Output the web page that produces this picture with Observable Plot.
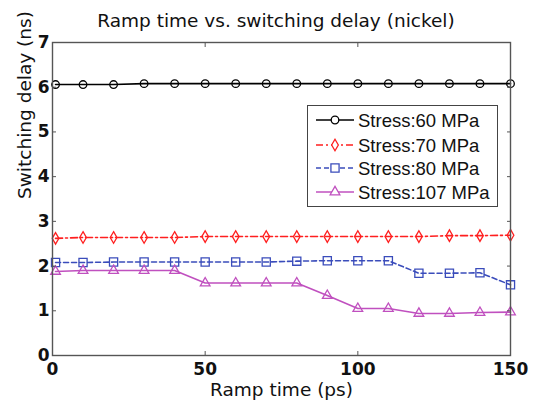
<!DOCTYPE html>
<html><head><meta charset="utf-8">
<script src="https://cdn.jsdelivr.net/npm/d3@7"></script>
<script src="https://cdn.jsdelivr.net/npm/@observablehq/plot@0.6"></script>
<style>
body{margin:0;background:#fff;font-family:"DejaVu Sans",sans-serif;}
#wrap{position:relative;width:535px;height:401px;overflow:hidden;}
#title{position:absolute;left:0;width:552px;top:11px;text-align:center;font-size:18.5px;line-height:20px;color:#111;}
#legend{position:absolute;left:307px;top:105px;width:191px;height:102px;border:1.3px solid #444;background:#fff;box-sizing:border-box;}
#wrap svg.plot{position:absolute;left:0;top:0;}
</style></head><body><div id="wrap"><div id="title">Ramp time vs. switching delay (nickel)</div></div>
<script>
const rampTime = [1,10,20,30,40,50,60,70,80,90,100,110,120,130,140,150];
const stress60  = [6.06,6.06,6.06,6.08,6.08,6.08,6.08,6.08,6.08,6.08,6.08,6.08,6.08,6.08,6.08,6.08];
const stress70  = [2.62,2.64,2.64,2.64,2.64,2.66,2.66,2.66,2.66,2.66,2.66,2.66,2.66,2.68,2.68,2.69];
const stress80  = [2.08,2.08,2.09,2.09,2.09,2.09,2.09,2.09,2.11,2.12,2.12,2.12,1.84,1.84,1.85,1.58];
const stress107 = [1.88,1.90,1.90,1.90,1.90,1.62,1.62,1.62,1.62,1.34,1.05,1.05,0.94,0.94,0.96,0.97];
const seriesNames = ["Stress:60 MPa","Stress:70 MPa","Stress:80 MPa","Stress:107 MPa"];
const seriesValues = [stress60, stress70, stress80, stress107];
const seriesColors = ["#000000","#ff1f1f","#3a4cbb","#c050bf"];
const seriesSymbols = ["circle","diamond","square","triangle"];
const seriesSymbolR = [3.8, 3.5, 4.6, 3.6];
const seriesDash = [null,"7,3,2,3","5,3",null];
const xTicks = [0,50,100,150];
const yTicks = [0,1,2,3,4,5,6,7];
const xLabel = "Ramp time (ps)";
const yLabel = "Switching delay (ns)";

const rows = seriesNames.flatMap((name, i) => rampTime.map((t, j) => ({series: name, t, v: seriesValues[i][j]})));

const W = 535, H = 401;
const tickFont = {fontSize: 17, fontWeight: "bold", fill: "#111"};
const marks = [];
seriesNames.forEach((name, i) => {
  const d = rows.filter(r => r.series === name);
  marks.push(Plot.line(d, {x: "t", y: "v", stroke: seriesColors[i], strokeWidth: 1.6, strokeDasharray: seriesDash[i]}));
  marks.push(Plot.dot(d, {x: "t", y: "v", symbol: () => seriesSymbols[i], stroke: seriesColors[i], r: seriesSymbolR[i], strokeWidth: 1.3, fill: "none"}));
});
marks.push(
  Plot.frame({stroke: "#555", strokeWidth: 1.4}),
  Plot.axisX(xTicks, {anchor: "bottom", tickSize: -4, tickPadding: 11, ...tickFont, stroke: "#555", label: null}),
  Plot.axisX(xTicks, {anchor: "top", tickSize: -4, tickFormat: () => "", stroke: "#555", label: null}),
  Plot.axisY(yTicks, {anchor: "left", tickSize: -4, tickPadding: 7, ...tickFont, stroke: "#555", label: null}),
  Plot.axisY(yTicks, {anchor: "right", tickSize: -4, tickFormat: () => "", stroke: "#555", label: null}),
  Plot.text([xLabel], {frameAnchor: "bottom", dy: 40, fontSize: 18.5, fill: "#111"}),
  Plot.text([yLabel], {frameAnchor: "left", rotate: -90, dx: -27, dy: 0, fontSize: 18.5, fill: "#111"})
);

const chart = Plot.plot({
  width: W, height: H,
  marginLeft: 52, marginRight: 25, marginTop: 42, marginBottom: 46,
  x: {domain: [0, 150]},
  y: {domain: [0, 7]},
  style: {fontFamily: "'DejaVu Sans', sans-serif", color: "#000", background: "transparent", overflow: "visible"},
  marks
});
chart.classList.add("plot");
const wrap = document.getElementById("wrap");
wrap.insertBefore(chart, wrap.firstChild);

// legend
const leg = document.createElement("div");
leg.id = "legend";
wrap.appendChild(leg);
const lsvg = d3.select(leg).append("svg").attr("width", 189).attr("height", 100);
const rowY = [14, 39, 62, 86];
const symMap = {circle: d3.symbolCircle, diamond: d3.symbolDiamond, square: d3.symbolSquare, triangle: d3.symbolTriangle};
seriesNames.forEach((name, i) => {
  const g = lsvg.append("g").attr("transform", `translate(0,${rowY[i]})`);
  g.append("line").attr("x1", 8).attr("x2", 46).attr("stroke", seriesColors[i]).attr("stroke-width", 1.6)
    .attr("stroke-dasharray", seriesDash[i]);
  const r = seriesSymbolR[i];
  g.append("path").attr("transform", "translate(27,0)")
    .attr("d", d3.symbol(symMap[seriesSymbols[i]], Math.PI * r * r)())
    .attr("fill", "#fff").attr("stroke", seriesColors[i]).attr("stroke-width", 1.3);
  g.append("text").attr("x", 50).attr("dy", "0.36em").attr("font-size", 18.5)
    .attr("font-family", "'Liberation Sans', Arial, sans-serif").attr("fill", "#111").text(name);
});
</script></body></html>
